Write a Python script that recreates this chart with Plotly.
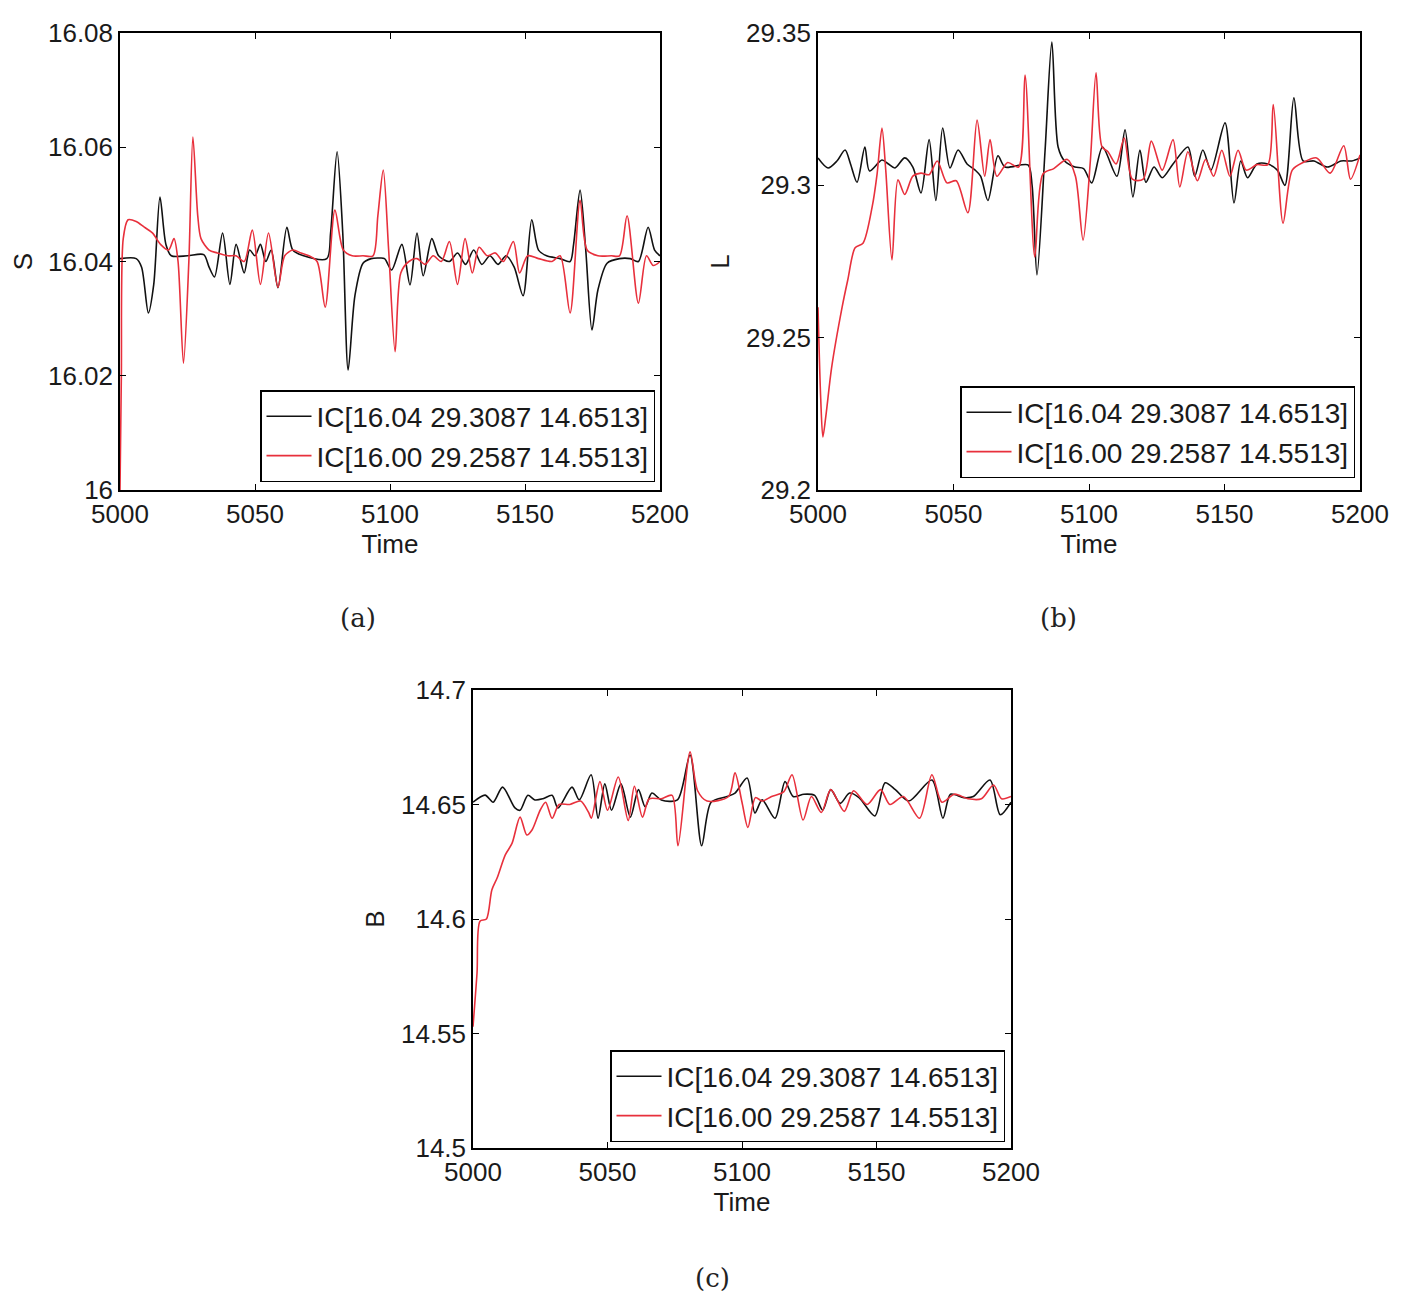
import plotly.graph_objects as go

# ---- data ----
legend_black = "IC[16.04 29.3087 14.6513]"
legend_red = "IC[16.00 29.2587 14.5513]"

x_ticks = [5000, 5050, 5100, 5150, 5200]
x_ticktext = ["5000", "5050", "5100", "5150", "5200"]

s_ticks = [16.0, 16.02, 16.04, 16.06, 16.08]
s_ticktext = ["16", "16.02", "16.04", "16.06", "16.08"]
l_ticks = [29.2, 29.25, 29.3, 29.35]
l_ticktext = ["29.2", "29.25", "29.3", "29.35"]
b_ticks = [14.5, 14.55, 14.6, 14.65, 14.7]
b_ticktext = ["14.5", "14.55", "14.6", "14.65", "14.7"]

# (a) S
s_black_t = [5000, 5006, 5008, 5010.5, 5012.5, 5014.8, 5017, 5019, 5025, 5031, 5033, 5035, 5038,
             5040.7, 5043, 5046, 5048, 5050, 5052, 5054, 5056, 5058.5, 5061.8, 5064, 5068, 5076.6,
             5078, 5080.4, 5082.5, 5084.5, 5087, 5090, 5093, 5096.3, 5098, 5100.6, 5104.4, 5107.4,
             5110, 5112.3, 5115.5, 5118, 5122, 5125, 5128, 5131, 5134, 5137, 5140, 5143, 5146,
             5149.3, 5152.5, 5155, 5158, 5163, 5166.7, 5168, 5170.4, 5172.5, 5174.8, 5177, 5180.4,
             5185, 5189, 5192, 5195.6, 5198, 5200]
s_black_v = [16.0405, 16.0405, 16.039, 16.031, 16.036, 16.0513, 16.043, 16.041, 16.041, 16.0412,
             16.039, 16.0373, 16.045, 16.036, 16.043, 16.038, 16.042, 16.041, 16.043, 16.040, 16.042,
             16.0354, 16.046, 16.042, 16.041, 16.0405, 16.045, 16.0592, 16.045, 16.021, 16.034,
             16.0397, 16.0405, 16.0406, 16.0405, 16.0385, 16.043, 16.0359, 16.045, 16.0375, 16.044,
             16.041, 16.040, 16.0415, 16.0395, 16.042, 16.0395, 16.041, 16.0395, 16.041, 16.039,
             16.034, 16.0473, 16.042, 16.041, 16.0405, 16.040, 16.043, 16.0525, 16.042, 16.028,
             16.035, 16.0397, 16.0405, 16.0405, 16.040, 16.046, 16.042, 16.041]
s_red_t = [5000, 5000.5, 5001.2, 5003, 5006, 5009, 5012, 5015, 5018, 5020, 5021.5, 5023.5, 5025.5,
           5027, 5028.8, 5030, 5033, 5036, 5040, 5043, 5046, 5049, 5052, 5055, 5058.5, 5061, 5064,
           5067, 5070, 5073, 5076, 5079.6, 5082.7, 5086, 5090, 5093.7, 5095.5, 5097.5, 5099.5,
           5101.9, 5104, 5107, 5110, 5113, 5116, 5119, 5122, 5125, 5127.8, 5130.5, 5133, 5136,
           5139, 5142, 5145.7, 5148, 5151, 5155, 5160, 5163, 5166.7, 5170.4, 5173, 5177, 5182,
           5185, 5187.8, 5192, 5195, 5197.5, 5200]
s_red_v = [16.0, 16.02, 16.044, 16.0473, 16.047, 16.046, 16.045, 16.043, 16.042, 16.044, 16.040,
           16.0222, 16.040, 16.0618, 16.048, 16.044, 16.042, 16.0415, 16.041, 16.041, 16.040,
           16.0455, 16.036, 16.045, 16.0355, 16.041, 16.042, 16.0415, 16.041, 16.040, 16.032,
           16.049, 16.042, 16.041, 16.041, 16.041, 16.048, 16.056, 16.042, 16.0242, 16.038, 16.040,
           16.0405, 16.0395, 16.041, 16.040, 16.0435, 16.036, 16.044, 16.038, 16.0425, 16.041,
           16.0415, 16.040, 16.0435, 16.038, 16.041, 16.0405, 16.040, 16.041, 16.031, 16.0507,
           16.042, 16.041, 16.041, 16.041, 16.048, 16.0327, 16.041, 16.0393, 16.040]

# (b) L
l_black_t = [5000, 5003.7, 5007, 5010, 5012, 5014.4, 5017.3, 5019, 5023.6, 5026, 5028.4, 5032, 5035,
             5038, 5041, 5043.5, 5046, 5048.7, 5051.7, 5055, 5058, 5060, 5062.7, 5066.4, 5069,
             5077.5, 5079, 5080.8, 5083.8, 5086.3, 5088.6, 5091, 5094.8, 5098, 5101, 5105, 5110.3,
             5113.3, 5116.2, 5118.8, 5121, 5124, 5127, 5131, 5136.5, 5139, 5142, 5145, 5150.2,
             5153.5, 5156, 5158.5, 5162, 5166, 5169.5, 5172.3, 5175.6, 5179, 5183, 5188, 5193,
             5197, 5200]
l_black_v = [29.309, 29.3057, 29.308, 29.3116, 29.307, 29.301, 29.3126, 29.3047, 29.3083, 29.307,
             29.3057, 29.309, 29.306, 29.2975, 29.315, 29.295, 29.3188, 29.3057, 29.3116, 29.307,
             29.305, 29.303, 29.295, 29.3097, 29.306, 29.3067, 29.300, 29.2706, 29.3116, 29.347,
             29.3126, 29.308, 29.306, 29.3055, 29.3008, 29.3126, 29.303, 29.3182, 29.2962, 29.3116,
             29.301, 29.306, 29.3025, 29.307, 29.3126, 29.303, 29.3116, 29.305, 29.3205, 29.2942,
             29.308, 29.3025, 29.307, 29.307, 29.305, 29.300, 29.3287, 29.308, 29.308, 29.306,
             29.308, 29.308, 29.309]
l_red_t = [5000, 5001, 5001.8, 5003, 5005, 5008.9, 5011, 5013.7, 5016.6, 5020, 5021.8, 5023.6, 5025,
           5027.3, 5029.5, 5032, 5035, 5038, 5041, 5044, 5047.6, 5051, 5055.3, 5058.7, 5061.5,
           5063.5, 5066, 5070, 5074, 5076.4, 5080, 5083, 5087, 5092, 5095, 5097.8, 5100.5, 5102.6,
           5104.8, 5107, 5110, 5113, 5116, 5120, 5123, 5127, 5131, 5133.5, 5136.5, 5140, 5143,
           5146, 5149, 5152, 5155, 5158, 5162, 5166, 5168, 5171.6, 5175, 5179, 5184, 5189, 5194,
           5196.5, 5200]
l_red_v = [29.26, 29.23, 29.2174, 29.225, 29.24, 29.26, 29.269, 29.2795, 29.281, 29.293, 29.3037,
           29.3188, 29.305, 29.2755, 29.3018, 29.297, 29.303, 29.304, 29.3035, 29.308, 29.3008,
           29.3015, 29.291, 29.3214, 29.303, 29.315, 29.303, 29.3075, 29.306, 29.3362, 29.2765,
           29.3037, 29.3055, 29.3085, 29.303, 29.282, 29.308, 29.3369, 29.3126, 29.311, 29.307,
           29.3155, 29.302, 29.302, 29.3145, 29.305, 29.315, 29.2995, 29.311, 29.3015, 29.3085,
           29.303, 29.3115, 29.303, 29.3115, 29.305, 29.3068, 29.3068, 29.3265, 29.2876, 29.305,
           29.3075, 29.309, 29.304, 29.313, 29.302, 29.310]

# (c) B
b_black_t = [5000, 5004.5, 5007.5, 5011, 5015.6, 5017.5, 5020.4, 5023, 5026, 5029.4, 5031.6, 5036.8,
             5039.5, 5043.9, 5046.5, 5049, 5051.5, 5055, 5058.5, 5061.5, 5064, 5066.5, 5070, 5076,
             5080.7, 5085, 5088.5, 5094.5, 5097.4, 5101.9, 5104.8, 5107.5, 5112.3, 5116, 5119,
             5123, 5127, 5130, 5133, 5136.5, 5140, 5143.5, 5149.4, 5153.2, 5157, 5162, 5170.6,
             5174.7, 5177.5, 5182.5, 5186, 5192.2, 5196, 5200]
b_black_v = [14.651, 14.6541, 14.651, 14.6576, 14.6485, 14.6475, 14.654, 14.652, 14.6525, 14.654,
             14.6485, 14.6576, 14.652, 14.663, 14.644, 14.659, 14.6475, 14.659, 14.6445, 14.6565,
             14.649, 14.655, 14.652, 14.652, 14.6716, 14.632, 14.651, 14.6535, 14.655, 14.6616,
             14.6463, 14.652, 14.644, 14.66, 14.6535, 14.6545, 14.654, 14.6475, 14.6565, 14.6505,
             14.655, 14.653, 14.645, 14.6595, 14.6565, 14.6515, 14.6607, 14.644, 14.6545, 14.653,
             14.6535, 14.6607, 14.6455, 14.651]
b_red_t = [5000, 5001.5, 5002.6, 5005, 5007, 5009, 5012, 5014.5, 5017.5, 5020, 5022, 5025, 5027,
           5029.4, 5032, 5036, 5040, 5043, 5044, 5047.2, 5050, 5054, 5057.7, 5060, 5063, 5065.5,
           5070, 5074, 5076.2, 5080.7, 5083.5, 5087, 5095, 5097.4, 5100, 5102.2, 5105, 5107.5,
           5111, 5115.5, 5118.6, 5122.7, 5125.8, 5129.5, 5133, 5138, 5141.5, 5146.5, 5151.5, 5155,
           5160, 5166, 5170.6, 5174.3, 5179, 5184, 5189, 5193.5, 5196.5, 5200]
b_red_v = [14.553, 14.5764, 14.599, 14.600, 14.6127, 14.618, 14.628, 14.633, 14.6445, 14.6367,
           14.639, 14.6476, 14.651, 14.644, 14.650, 14.650, 14.6515, 14.6465, 14.644, 14.660,
           14.6475, 14.662, 14.643, 14.658, 14.6445, 14.6525, 14.6525, 14.654, 14.632, 14.673,
           14.656, 14.6515, 14.6535, 14.6638, 14.651, 14.640, 14.653, 14.6515, 14.6535, 14.6555,
           14.663, 14.6432, 14.6535, 14.6465, 14.6565, 14.647, 14.656, 14.650, 14.6565, 14.650,
           14.6535, 14.644, 14.663, 14.651, 14.6545, 14.6525, 14.6525, 14.6585, 14.6525, 14.6535]

# page has an 8px body margin, so the figure is a bit smaller than the window
OFF = 8
W, H = 1402 - 2 * OFF, 1305 - 2 * OFF
BLACK = "#111111"
RED = "#e8303c"
TICK_FONT = dict(family="Liberation Sans, Arial", size=26, color="#1a1a1a")
SERIF = dict(family="DejaVu Serif, Liberation Serif", size=26, color="#222222")


def px(x):
    return (x - OFF) / W


def py(y):
    return 1 - (y - OFF) / H


def axis_x(domain, anchor):
    return dict(domain=domain, anchor=anchor, range=[5000, 5200], automargin=False,
                tickvals=x_ticks, ticktext=x_ticktext, ticks="inside", ticklen=6,
                tickcolor="black", showline=True, linecolor="black", linewidth=1.5,
                mirror="ticks", showgrid=False, zeroline=False, tickfont=TICK_FONT,
                title=dict(text="Time", font=TICK_FONT, standoff=0))


def axis_y(domain, anchor, rng, vals, text, name):
    return dict(domain=domain, anchor=anchor, range=rng, automargin=False,
                tickvals=vals, ticktext=text, ticks="inside", ticklen=6,
                tickcolor="black", showline=True, linecolor="black", linewidth=1.5,
                mirror="ticks", showgrid=False, zeroline=False, tickfont=TICK_FONT,
                title=dict(text=name, font=TICK_FONT, standoff=9))


fig = go.Figure()

panels = [
    ("x", "y", "legend", s_black_t, s_black_v, s_red_t, s_red_v),
    ("x2", "y2", "legend2", l_black_t, l_black_v, l_red_t, l_red_v),
    ("x3", "y3", "legend3", b_black_t, b_black_v, b_red_t, b_red_v),
]
for xa, ya, leg, bt, bv, rt, rv in panels:
    fig.add_trace(go.Scatter(x=bt, y=bv, mode="lines", name=legend_black, legend=leg,
                             xaxis=xa, yaxis=ya,
                             line=dict(color=BLACK, width=1.6, shape="spline", smoothing=0.8)))
    fig.add_trace(go.Scatter(x=rt, y=rv, mode="lines", name=legend_red, legend=leg,
                             xaxis=xa, yaxis=ya,
                             line=dict(color=RED, width=1.6, shape="spline", smoothing=0.8)))

top = [py(490), py(33)]
bottom = [py(1148), py(690)]

legend_style = dict(font=dict(family="Liberation Sans, Arial", size=28, color="#1a1a1a"),
                    bgcolor="white", bordercolor="black", borderwidth=1.5, itemwidth=45,
                    xanchor="right", yanchor="bottom", tracegroupgap=0)


def caption(text, x, y):
    return dict(text=text, x=px(x), y=py(y), xref="paper", yref="paper",
                xanchor="center", yanchor="middle", showarrow=False, font=SERIF)


fig.update_layout(
    width=W, height=H,
    margin=dict(l=0, r=0, t=0, b=0, autoexpand=False),
    paper_bgcolor="white", plot_bgcolor="white",
    showlegend=True,
    xaxis=axis_x([px(120), px(660)], "y"),
    yaxis=axis_y(top, "x", [16.0, 16.08], s_ticks, s_ticktext, "S"),
    xaxis2=axis_x([px(818), px(1360)], "y2"),
    yaxis2=axis_y(top, "x2", [29.2, 29.35], l_ticks, l_ticktext, "L"),
    xaxis3=axis_x([px(473), px(1011)], "y3"),
    yaxis3=axis_y(bottom, "x3", [14.5, 14.7], b_ticks, b_ticktext, "B"),
    legend=dict(x=px(655), y=py(482), **legend_style),
    legend2=dict(x=px(1355), y=py(478), **legend_style),
    legend3=dict(x=px(1005), y=py(1142), **legend_style),
    annotations=[
        caption("(a)", 358, 618),
        caption("(b)", 1058, 618),
        caption("(c)", 712, 1278),
    ],
)

fig.write_html("out.html")
